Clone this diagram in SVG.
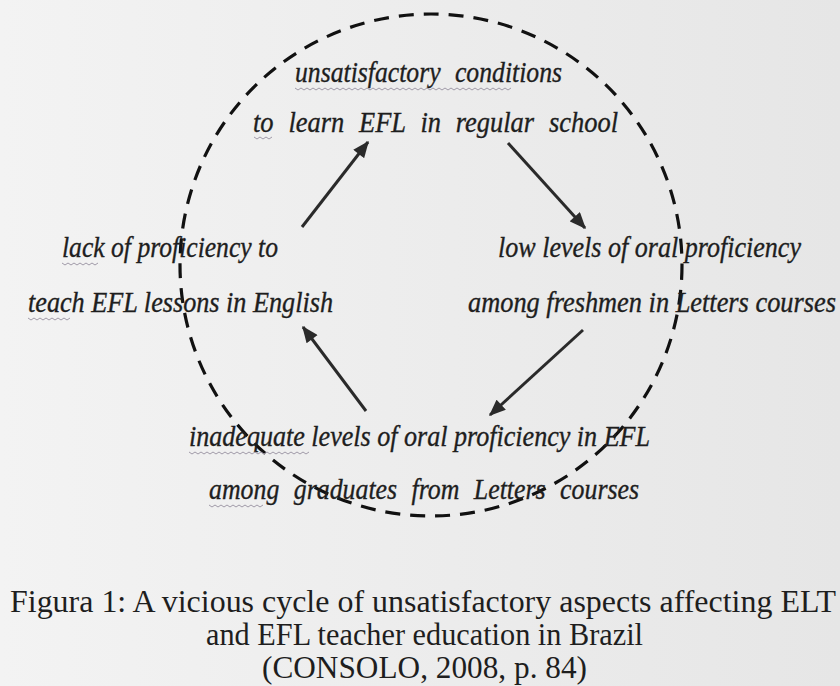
<svg xmlns="http://www.w3.org/2000/svg" width="840" height="686" viewBox="0 0 840 686">
  <defs>
    <linearGradient id="bg" x1="0" y1="0" x2="1" y2="0">
      <stop offset="0" stop-color="#f3f3f3"/>
      <stop offset="1" stop-color="#e6e6e6"/>
    </linearGradient>
    <marker id="ah" viewBox="0 0 12 10" refX="11" refY="5" markerWidth="5.8" markerHeight="4.6" orient="auto" markerUnits="strokeWidth">
      <path d="M0,0 L12,5 L0,10 z" fill="#2a2a2a"/>
    </marker>
    <style>
      .lbl { font-family: "Liberation Serif", "Times New Roman", serif; font-style: italic; font-size: 29px; fill: #1e1e1e; stroke: #1e1e1e; stroke-width: 0.35; }
      .wide { word-spacing: 9px; }
      .cap { font-family: "Liberation Serif", "Times New Roman", serif; font-size: 31px; fill: #1e1e1e; }
      .arr { stroke: #2a2a2a; stroke-width: 3; fill: none; marker-end: url(#ah); }
      .cyc { stroke: #111; stroke-width: 3.2; fill: none; stroke-dasharray: 15 10; }
      .sq { stroke: #a09aa8; stroke-width: 1; fill: none; }
    </style>
  </defs>
  <rect width="840" height="686" fill="url(#bg)"/>

  <g id="cycle">
    <circle class="cyc" cx="431" cy="265" r="251"/>
  </g>

  <g id="connectors">
    <line class="arr" x1="508" y1="143" x2="585" y2="228"/>
    <line class="arr" x1="583" y1="330" x2="490" y2="415"/>
    <line class="arr" x1="366" y1="411" x2="303" y2="327"/>
    <line class="arr" x1="302" y1="227" x2="368" y2="142"/>
  </g>

  <g id="node-top">
    <text class="lbl wide" x="295" y="82" textLength="267" lengthAdjust="spacingAndGlyphs">unsatisfactory conditions</text>
    <text class="lbl wide" x="253" y="132" textLength="365" lengthAdjust="spacingAndGlyphs">to learn EFL in regular school</text>
  </g>
  <g id="node-right">
    <text class="lbl" x="498" y="257" textLength="303" lengthAdjust="spacingAndGlyphs">low levels of oral proficiency</text>
    <text class="lbl" x="468" y="312" textLength="368" lengthAdjust="spacingAndGlyphs">among freshmen in Letters courses</text>
  </g>
  <g id="node-bottom">
    <text class="lbl" x="189" y="446" textLength="461" lengthAdjust="spacingAndGlyphs">inadequate levels of oral proficiency in EFL</text>
    <text class="lbl wide" x="209" y="499" textLength="430" lengthAdjust="spacingAndGlyphs">among graduates from Letters courses</text>
  </g>
  <g id="node-left">
    <text class="lbl" x="62" y="257" textLength="216" lengthAdjust="spacingAndGlyphs">lack of proficiency to</text>
    <text class="lbl" x="28" y="312" textLength="305" lengthAdjust="spacingAndGlyphs">teach EFL lessons in English</text>
  </g>

  <g id="squiggles">
    <path class="sq" d="M295,88 l3,2 l3,-2 l3,2 l3,-2 l3,2 l3,-2 l3,2 l3,-2 l3,2 l3,-2 l3,2 l3,-2 l3,2 l3,-2 l3,2 l3,-2 l3,2 l3,-2 l3,2 l3,-2 l3,2 l3,-2 l3,2 l3,-2 l3,2 l3,-2 l3,2 l3,-2 l3,2 l3,-2 l3,2 l3,-2 l3,2 l3,-2 l3,2 l3,-2 l3,2 l3,-2 l3,2 l3,-2 l3,2 l3,-2 l3,2 l3,-2 l3,2 l3,-2 l3,2 l3,-2 l3,2 l3,-2 l3,2 l3,-2 l3,2 l3,-2 l3,2 l3,-2 l3,2 l3,-2 l3,2 l3,-2 l3,2 l3,-2 l3,2 l3,-2 l3,2 l3,-2 l3,2 l3,-2 l3,2 l3,-2 l3,2 l3,-2"/>
    <path class="sq" d="M254,137 l3,2 l3,-2 l3,2 l3,-2 l3,2 l3,-2"/>
    <path class="sq" d="M62,263 l3,2 l3,-2 l3,2 l3,-2 l3,2 l3,-2 l3,2 l3,-2 l3,2 l3,-2 l3,2 l3,-2"/>
    <path class="sq" d="M28,318 l3,2 l3,-2 l3,2 l3,-2 l3,2 l3,-2 l3,2 l3,-2 l3,2 l3,-2 l3,2 l3,-2 l3,2 l3,-2"/>
    <path class="sq" d="M189,452 l3,2 l3,-2 l3,2 l3,-2 l3,2 l3,-2 l3,2 l3,-2 l3,2 l3,-2 l3,2 l3,-2 l3,2 l3,-2 l3,2 l3,-2 l3,2 l3,-2 l3,2 l3,-2 l3,2 l3,-2 l3,2 l3,-2 l3,2 l3,-2 l3,2 l3,-2 l3,2 l3,-2 l3,2 l3,-2 l3,2 l3,-2 l3,2 l3,-2 l3,2 l3,-2 l3,2 l3,-2"/>
    <path class="sq" d="M209,505 l3,2 l3,-2 l3,2 l3,-2 l3,2 l3,-2 l3,2 l3,-2 l3,2 l3,-2 l3,2 l3,-2 l3,2 l3,-2 l3,2 l3,-2 l3,2 l3,-2"/>
  </g>

  <g id="caption">
    <text class="cap" x="10" y="612" textLength="826" lengthAdjust="spacingAndGlyphs">Figura 1:  A vicious cycle of unsatisfactory aspects affecting ELT</text>
    <text class="cap" x="206" y="645" textLength="437" lengthAdjust="spacingAndGlyphs">and EFL teacher education in Brazil</text>
    <text class="cap" x="262" y="678" textLength="325" lengthAdjust="spacingAndGlyphs">(CONSOLO, 2008, p. 84)</text>
  </g>
</svg>
